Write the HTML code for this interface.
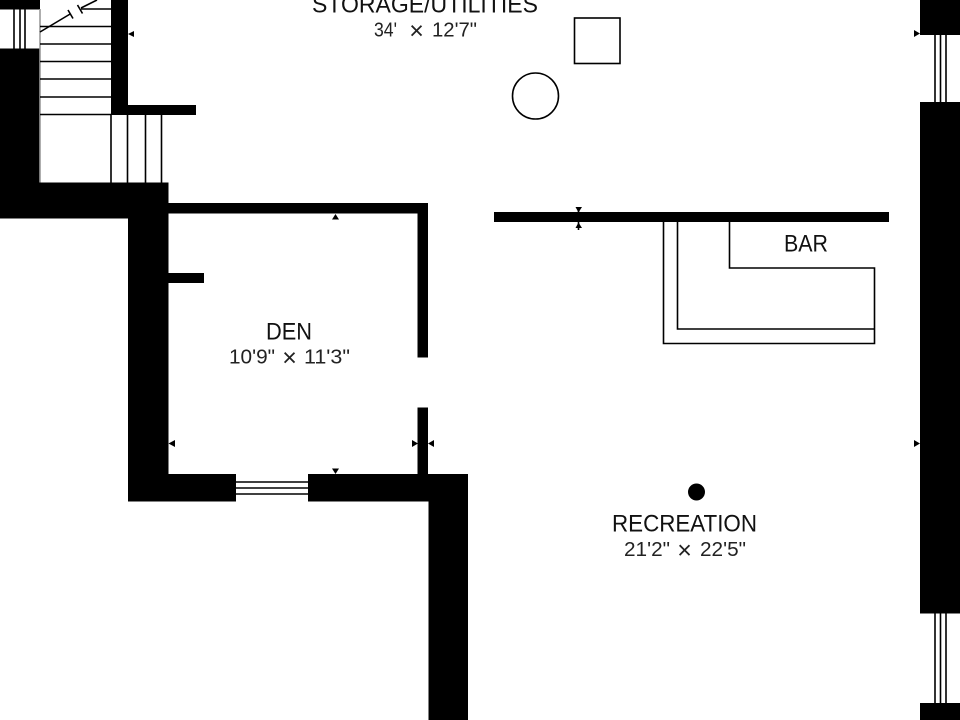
<!DOCTYPE html>
<html>
<head>
<meta charset="utf-8">
<style>
html,body{margin:0;padding:0;background:#fff;width:960px;height:720px;overflow:hidden}
svg{display:block}
text{font-family:"Liberation Sans",sans-serif;fill:#111}
.n{font-size:24px}
.d{font-size:20px;fill:#222}
.x{font-size:25px;fill:#222;text-anchor:middle}
</style>
</head>
<body>
<svg width="960" height="720" viewBox="0 0 960 720" xmlns="http://www.w3.org/2000/svg">
<g fill="#000">
<rect x="0" y="0" width="40" height="9.5"/>
<rect x="0" y="48.500" width="40" height="170"/>
<rect x="0" y="182.500" width="168.500" height="36"/>
<rect x="128" y="182.500" width="40.500" height="319"/>
<rect x="111" y="0" width="17" height="115"/>
<rect x="111" y="105" width="85" height="10"/>
<rect x="168" y="203" width="260" height="10.500"/>
<rect x="417.500" y="203" width="10.500" height="154.500"/>
<rect x="417.500" y="407.500" width="10.500" height="70"/>
<rect x="168" y="273" width="36" height="10"/>
<rect x="128" y="474" width="108" height="27.500"/>
<rect x="308" y="474" width="160" height="27.500"/>
<rect x="428.500" y="474" width="39.500" height="246"/>
<rect x="920" y="0" width="40" height="35"/>
<rect x="920" y="102" width="40" height="511.500"/>
<rect x="920" y="703" width="40" height="17"/>
<rect x="494" y="212" width="395" height="10"/>
</g>
<g stroke="#000" stroke-width="1.600" fill="none">
<path d="M14 9.500V48.500M20 9.500V48.500M25 9.500V48.500"/>
<path d="M40 9V182.500" stroke="#999"/>
<path d="M81 9H111M40 26.500H111M40 44H111M40 61.500H111M40 79H111M40 97H111M40 114.500H111"/>
<path d="M40 32L71 13.500M68 10L73 18.500"/>
<path d="M81 8L97 0M77.500 5L82.500 13.500"/>
<path d="M111 115V182.500M127.500 115V182.500M145.500 115V182.500M161.500 115V182.500"/>
<path d="M236 482H308M236 488H308M236 494H308"/>
<path d="M935 35V102M940.500 35V102M946 35V102"/>
<path d="M935 613V703M940.500 613V703M946 613V703"/>
<path d="M663.500 222V343.500H874.500V268H729.500V222"/>
<path d="M677.500 222V329H874.500"/>
<rect x="574.500" y="18" width="45.500" height="45.500"/>
<circle cx="535.500" cy="96" r="23"/>
<path d="M578.500 210V230"/>
</g>
<circle cx="696.500" cy="492" r="8.500" fill="#000"/>
<g fill="#000">
<path d="M128 34L134 31V37Z"/>
<path d="M335.500 214L339 219.500H332Z"/>
<path d="M575.500 207H582L578.500 212.500Z"/>
<path d="M575.500 228H582L578.500 222.500Z"/>
<path d="M168.500 443.500L175 440V447Z"/>
<path d="M418 443.500L412 440V447Z"/>
<path d="M428 443.500L434 440V447Z"/>
<path d="M335.500 474L332 468.500H339Z"/>
<path d="M920 33.500L914 30V37Z"/>
<path d="M920 443.500L914 440V447Z"/>
</g>
<text class="n" x="312" y="12.700" textLength="226" lengthAdjust="spacingAndGlyphs">STORAGE/UTILITIES</text>
<text class="d" x="374" y="36.500" textLength="23" lengthAdjust="spacingAndGlyphs">34'</text>
<text class="x" x="416.500" y="39">×</text>
<text class="d" x="432" y="36.500" textLength="45" lengthAdjust="spacingAndGlyphs">12'7"</text>
<text class="n" x="266" y="339.300" textLength="46" lengthAdjust="spacingAndGlyphs">DEN</text>
<text class="d" x="229" y="363.500" textLength="46" lengthAdjust="spacingAndGlyphs">10'9"</text>
<text class="x" x="289.500" y="366">×</text>
<text class="d" x="304" y="363.500" textLength="46" lengthAdjust="spacingAndGlyphs">11'3"</text>
<text class="n" x="784" y="251.700" textLength="44" lengthAdjust="spacingAndGlyphs">BAR</text>
<text class="n" x="612" y="531.700" textLength="145" lengthAdjust="spacingAndGlyphs">RECREATION</text>
<text class="d" x="624" y="556" textLength="46" lengthAdjust="spacingAndGlyphs">21'2"</text>
<text class="x" x="684.500" y="558.500">×</text>
<text class="d" x="700" y="556" textLength="46" lengthAdjust="spacingAndGlyphs">22'5"</text>
</svg>
</body>
</html>
